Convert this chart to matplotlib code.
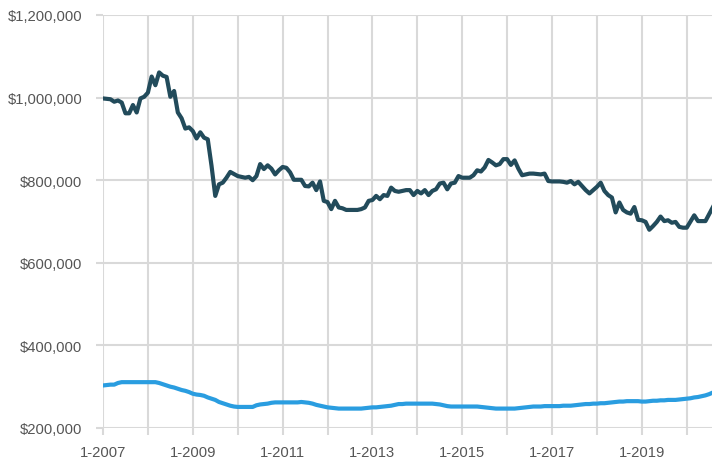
import matplotlib
matplotlib.use("Agg")
import matplotlib.pyplot as plt
from matplotlib.ticker import FuncFormatter

# Monthly values (thousands of dollars), Jan 2007 onward
dark_values = [
    998, 997, 996, 990, 993, 988, 962, 962, 982, 964, 998, 1002,
    1012, 1051, 1030, 1061, 1053, 1050, 1002, 1016, 964, 950, 925, 928,
    919, 901, 916, 903, 899, 835, 762, 790, 794, 806, 820, 815,
    810, 808, 806, 808, 800, 810, 839, 827, 836, 828, 814, 824,
    832, 830, 819, 801, 801, 801, 786, 785, 794, 776, 797, 750,
    747, 730, 750, 734, 732, 728, 728, 728, 728, 730, 734, 750,
    752, 762, 754, 764, 762, 782, 774, 772, 774, 776, 776, 764,
    774, 768, 776, 764, 774, 778, 792, 794, 778, 792, 794, 810,
    806, 806, 806, 812, 824, 821, 831, 849, 843, 836, 839, 851,
    851, 837, 848, 828, 812, 814, 816, 816, 815, 814, 816, 798,
    797, 797, 797, 796, 794, 798, 790, 796, 786, 776, 768, 776,
    784, 794, 774, 764, 758, 722, 746, 728, 722, 719, 735, 704,
    703, 699, 680, 689, 699, 712, 701, 703, 697, 699, 687, 685,
    685, 700, 715, 701, 701, 701, 718, 735,
]
light_values = [
    303, 304, 305, 305, 309, 311, 311, 311, 311, 311, 311, 311,
    311, 311, 311, 309, 306, 303, 300, 298, 295, 292, 290, 287,
    283, 281, 280, 278, 274, 271, 268, 263, 260, 257, 254, 252,
    251, 251, 251, 251, 251, 255, 257, 258, 259, 261, 262, 262,
    262, 262, 262, 262, 262, 263, 262, 261, 259, 256, 254, 252,
    250, 249, 248, 247, 247, 247, 247, 247, 247, 247, 248, 249,
    250, 250, 251, 252, 253, 254, 256, 258, 258, 259, 259, 259,
    259, 259, 259, 259, 259, 258, 257, 255, 253, 252, 252, 252,
    252, 252, 252, 252, 252, 251, 250, 249, 248, 247, 247, 247,
    247, 247, 247, 248, 249, 250, 251, 252, 252, 252, 253, 253,
    253, 253, 253, 254, 254, 254, 255, 256, 257, 258, 258, 259,
    259, 260, 260, 261, 262, 263, 264, 264, 265, 265, 265, 265,
    264, 264, 265, 266, 266, 267, 267, 268, 268, 268, 269, 270,
    271, 272, 274, 275, 277, 279, 282, 286,
]
year_ticks = [0, 12, 24, 36, 48, 60, 72, 84, 96, 108, 120, 132, 144, 156]
year_labels = ["1-2007", "", "1-2009", "", "1-2011", "", "1-2013", "",
               "1-2015", "", "1-2017", "", "1-2019", ""]
y_ticks = [200, 400, 600, 800, 1000, 1200]

plt.rcParams['font.family'] = ['Liberation Sans', 'DejaVu Sans']

fig = plt.figure(figsize=(7.12, 4.64), dpi=100)
ax = fig.add_axes([103/712, 1 - 429/464, 1 - 103/712, (429 - 16)/464])

months = list(range(len(dark_values)))
ax.plot(months, dark_values, color='#224b5b', lw=3.0, solid_joinstyle='round', zorder=3)
ax.plot(list(range(len(light_values))), light_values, color='#2a9de0', lw=3.0,
        solid_joinstyle='round', zorder=3)

ax.set_xlim(0, 162.75)
ax.set_ylim(200, 1200)
ax.set_xticks(year_ticks)
ax.set_xticklabels(year_labels)
ax.set_yticks(y_ticks)
ax.yaxis.set_major_formatter(FuncFormatter(lambda v, p: f"${v*1000:,.0f}"))

grid_c = '#d9d9d9'
ax.grid(True, color=grid_c, lw=1.5, zorder=0)
ax.set_axisbelow(True)
for s in ax.spines.values():
    s.set_visible(False)
ax.tick_params(axis='both', colors=grid_c, width=1.5, labelcolor='#555555',
               labelsize=10.6)
ax.tick_params(axis='x', length=5, pad=7)
ax.tick_params(axis='y', length=5, pad=10)

fig.savefig('out.png', dpi=100)
